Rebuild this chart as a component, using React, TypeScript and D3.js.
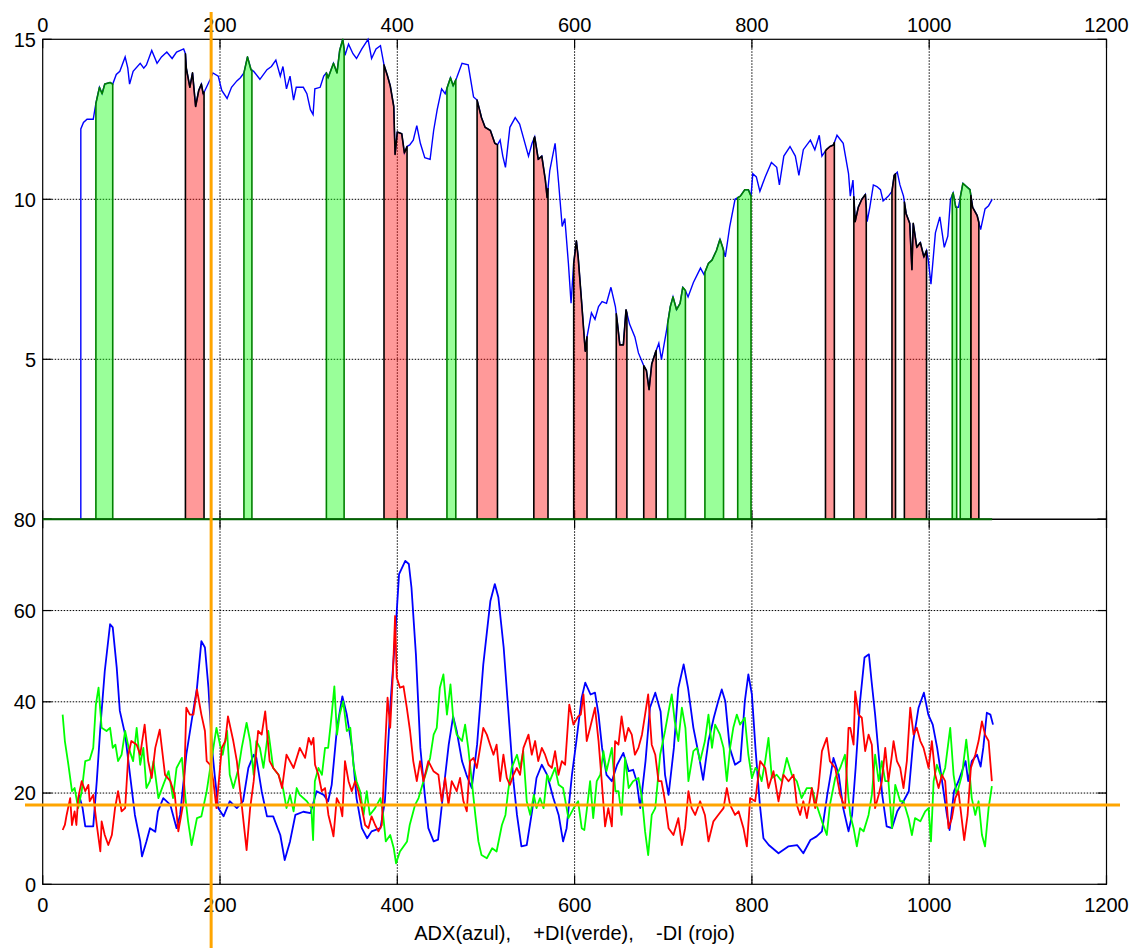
import React from 'react';
import * as d3 from 'd3';

type Pt = [number, number];

// axis ticks
const xTicks = [0, 200, 400, 600, 800, 1000, 1200];
const priceTicks = [0, 5, 10, 15];
const priceLabels = [5, 10, 15];
const adxTicks = [0, 20, 40, 60, 80];

// price (top panel), [bar, value]
const price: Pt[] = [
  [43, 0], [43, 12.2], [46, 12.4], [50, 12.5], [53, 12.5], [57, 12.5], [60, 13.0], [64, 13.5], [67, 13.3], [70, 13.6],
  [76, 13.65], [79, 13.6], [83, 13.9], [87, 14.0], [93, 14.45], [96, 14.1], [98, 13.6], [102, 14.0], [110, 14.25],
  [114, 14.1], [117, 14.2], [123, 14.65], [129, 14.25], [134, 14.45], [140, 14.6], [146, 14.4], [151, 14.6], [159, 14.7],
  [161, 14.55], [162, 14.1], [166, 13.5], [169, 13.95], [172.5, 12.9], [176, 13.4], [179, 13.6], [181, 13.3], [183, 13.4],
  [189, 13.75], [192, 13.95], [198, 13.85], [202, 13.4], [208, 13.15], [213, 13.5], [219, 13.7], [223, 13.8], [227, 13.95],
  [231, 14.45], [235, 14.05], [238, 14.0], [245, 13.75], [253, 14.05], [258, 14.15], [263, 14.35], [268, 13.85],
  [271, 14.15], [275, 13.45], [279, 13.85], [283, 13.1], [286, 13.5], [294, 13.5], [298, 13.3], [302, 12.8], [305, 12.65],
  [307, 13.45], [313, 13.5], [317, 13.85], [320, 13.95], [322, 13.8], [328, 14.25], [332, 13.95], [335, 14.65],
  [338.5, 15.0], [341, 14.5], [345, 14.85], [350, 14.55], [354, 14.4], [360, 14.7], [367, 15.0], [371, 14.4], [376, 14.7],
  [381, 14.8], [385, 14.2], [389, 13.85], [392, 13.55], [396, 12.9], [397.5, 11.4], [400, 12.1], [405, 12.05], [408, 11.45],
  [411, 11.65], [414, 11.7], [418, 11.85], [422, 12.3], [426, 11.75], [431, 11.3], [437, 11.25], [441, 12.15], [445, 12.8],
  [450, 13.45], [454, 13.3], [460, 13.8], [463, 13.55], [467, 13.8], [473, 14.25], [480, 14.2], [486, 13.2], [490, 13.1],
  [495, 12.55], [499, 12.25], [505, 12.15], [510, 11.75], [513, 11.7], [516, 11.85], [519, 11.35], [522, 11.0], [527, 12.25],
  [533, 12.55], [538, 12.35], [542, 11.95], [548, 11.35], [552, 11.75], [555, 11.95], [559, 11.25], [563, 11.35], [567, 10.6],
  [569, 10.05], [572, 10.9], [578, 11.75], [582, 10.5], [586, 9.15], [589, 9.4], [593, 8.0], [596, 6.75], [599, 8.0],
  [602, 8.7], [604, 8.2], [608, 6.75], [612, 5.25], [614, 5.7], [619, 6.45], [623, 6.25], [627, 6.65], [631, 6.8],
  [636, 6.75], [641, 7.25], [646, 6.65], [648, 6.2], [651, 5.45], [655, 5.45], [658, 6.55], [662, 6.1], [668, 5.7],
  [672, 5.2], [678, 4.8], [681, 4.65], [684, 4.05], [687, 4.85], [691, 5.2], [695, 5.5], [698, 5.0], [704, 5.95],
  [708, 6.65], [711, 6.95], [715, 6.55], [719, 6.75], [722, 7.25], [725, 7.15], [728, 6.95], [734, 7.4], [742, 7.85],
  [746, 7.65], [751, 8.0], [755, 8.1], [760, 8.4], [764, 8.75], [767, 8.5], [770, 8.2], [775, 9.15], [781, 10.0],
  [787, 10.1], [792, 10.3], [796, 10.3], [799, 10.1], [801, 10.8], [805, 10.7], [809, 10.25], [815, 10.7], [822, 11.15],
  [828, 11.0], [831, 10.45], [836, 11.35], [843, 11.65], [849, 11.35], [853, 10.75], [858, 11.55], [866, 11.85],
  [871, 11.55], [876, 12.0], [879, 11.35], [884, 11.55], [888, 11.65], [892, 11.7], [896, 12.0], [903, 11.75], [909, 10.8],
  [911, 10.1], [914, 10.6], [916.5, 9.3], [920, 9.75], [924, 10.0], [928, 10.15], [930, 9.3], [933, 9.75], [937, 10.45],
  [941, 10.4], [945, 10.3], [948, 9.95], [954, 10.1], [958, 10.25], [960.5, 10.75], [964, 10.85], [967, 10.45], [971, 10.1],
  [974, 9.55], [978, 9.25], [980.5, 7.8], [982, 9.25], [986, 8.5], [990, 8.65], [994, 8.2], [997, 8.4], [999, 8.1],
  [1002, 7.35], [1007, 8.95], [1012, 9.45], [1017, 8.5], [1021, 8.85], [1024, 10.0], [1027, 10.2], [1030, 9.75],
  [1033, 9.75], [1038, 10.5], [1042, 10.4], [1046, 10.3], [1049, 9.75], [1054, 9.5], [1058, 9.05], [1063, 9.7],
  [1067, 9.8], [1071, 10.0],
];

// shaded zones, [from, to]
const greenZones: Pt[] = [
  [60, 79], [227, 236], [320, 340], [456, 466], [705, 725], [747, 768], [784, 799], [1026, 1031], [1035, 1047],
];
const redZones: Pt[] = [
  [161, 182], [385, 411], [490, 513], [554, 570], [599, 614], [647, 659], [678, 692], [883, 893], [915, 929],
  [958, 962], [972, 997], [1047, 1056],
];

// ADX (azul)
const adx: Pt[] = [
  [41, 19.6], [45, 16.7], [48, 12.7], [57, 12.7], [61, 22.6], [65, 34.3], [70, 46.7], [76, 57], [79, 56.3], [83.5, 47.5],
  [87, 38], [93, 32.8], [98.5, 24], [104, 15.2], [110, 9.4], [112, 6.1], [117, 9.4], [121, 12.3], [127, 11.5], [130, 16],
  [136, 18.9], [144, 17.4], [151, 12.3], [155, 15.2], [162, 28.4], [168, 35.8], [174, 43], [179, 53.3], [183, 51.9],
  [187, 43], [191, 29.9], [194, 24], [198, 16.7], [204, 14.9], [211, 18.2], [219, 16.7], [226, 18.2], [232, 25.5],
  [238, 28.4], [241, 27.7], [247, 20.4], [253, 14.9], [260, 14.9], [268, 10.8], [273, 5.3], [279, 9.4], [285, 15.2],
  [294, 15.9], [302, 15.6], [309, 20.4], [317, 19.6], [322, 18.2], [326, 21.8], [332, 34.3], [338, 41.2], [343, 37.2],
  [349, 29.9], [354, 18.9], [360, 12.3], [366, 10.1], [371, 11.6], [381, 12.3], [386, 18.2], [392, 38.7], [398, 55.5],
  [402, 68], [409, 70.9], [413, 70.2], [416, 65], [421, 50.4], [426, 29.9], [431, 19.6], [435, 12.3], [441, 9.4],
  [446, 9.8], [452, 20.4], [458, 30.6], [463, 36.8], [467, 33.6], [473, 27], [478, 24], [484, 21.1], [490, 30.6],
  [497, 48.2], [505, 62.1], [510, 65.8], [514, 62.9], [520, 51.9], [525, 38.7], [531, 22.6], [535, 15.2], [540, 8.3],
  [546, 8.6], [552, 16], [557, 23.3], [563, 26.2], [569, 24], [576, 18.9], [582, 15.2], [587, 9.4], [591, 12.3],
  [597, 24], [602, 31.4], [608, 40.9], [612, 44.2], [618, 41.6], [623, 42], [627, 37.2], [631, 29.9], [636, 24],
  [642, 22.6], [648, 26.2], [655, 28.8], [661, 24.8], [666, 25.1], [670, 22.6], [674, 16.7], [680, 27], [685, 38.7],
  [691, 42], [697, 37.9], [702, 24], [706, 19.6], [712, 29.9], [717, 43], [723, 48.2], [728, 43], [734, 34.3],
  [740, 28.4], [745, 22.9], [751, 31.4], [757, 36.5], [762, 40.1], [766, 42.7], [770, 40.1], [775, 29.9], [781, 26.2],
  [787, 27], [792, 40.1], [796, 46], [800, 41.6], [804, 29.9], [809, 17.4], [813, 10.1], [819, 8.6], [830, 6.8],
  [841, 8.3], [851, 8.6], [858, 6.8], [866, 9.7], [873, 10.5], [879, 11.6], [885, 19.6], [892, 27.7], [898, 24],
  [903, 16.7], [909, 11.6], [913, 15.2], [917, 25.5], [922, 40.1], [927, 49.7], [932, 50.4], [935, 44.5], [939, 37.2],
  [943, 28.4], [947, 19.6], [952, 12.7], [958, 12.3], [964, 16], [971, 18.2], [977, 20.4], [982, 31.4], [988, 38.7],
  [994, 42], [999, 37.2], [1004, 35], [1009, 29.9], [1014, 23.3], [1020, 15.2], [1023, 11.9], [1028, 20.4], [1033, 22.6],
  [1041, 27], [1044, 22.6], [1048, 27], [1054, 28.4], [1058, 25.8], [1061, 29.9], [1065, 37.6], [1069, 37.2], [1072, 35],
];

// +DI (verde)
const diPlus: Pt[] = [
  [22.5, 37.2], [25, 31.4], [29, 26.2], [33, 20.4], [36, 21.1], [40, 16.7], [44, 20.4], [48, 27], [53, 27.3], [57, 29.9],
  [60, 39.4], [63, 43.1], [66.5, 34.3], [72, 33.6], [76, 34.3], [79, 29.9], [82, 30.6], [85, 27], [89, 28.4], [93, 33.6],
  [97, 29.9], [102, 27], [106, 34.3], [110, 26.2], [113.5, 29.9], [117, 21.1], [121, 22.6], [125, 27], [130.5, 18.9],
  [136, 21.8], [142, 24.8], [147, 18.9], [151, 25.5], [157, 27.7], [161, 18.9], [164, 13.8], [168, 8.6], [174, 14.5],
  [179, 14.9], [185, 20.4], [189, 25.5], [192.5, 29.9], [196, 34.3], [200, 30.6], [203, 28.4], [208, 33.6], [211, 24],
  [215, 21.1], [221, 25.5], [224.5, 29.9], [230, 35.4], [234, 31.4], [238, 24], [241, 31.4], [245, 29.9], [249, 25.5],
  [254.5, 33.6], [260, 25.5], [266, 24], [271, 21.1], [275, 16.7], [279, 19.6], [283, 16], [286.5, 21.1], [290, 19.6],
  [298, 18.2], [303, 16.7], [305, 9.7], [307, 22.6], [311, 25.5], [315, 24], [318.5, 29.9], [322, 29.9], [326, 37.2],
  [329, 43.4], [332, 32.8], [335, 37.2], [339, 40.1], [343, 33.6], [347, 34.3], [350.5, 26.2], [354, 22.6], [358, 20.4],
  [362, 15.2], [365.5, 20.4], [369, 15.2], [375, 16.7], [381, 18.9], [384, 15.2], [387, 9.4], [392, 10.8], [396, 7.9],
  [398.6, 4.6], [403, 7.2], [411, 9.4], [414, 13], [420, 17.4], [424, 18.9], [429.5, 22.6], [433, 24.8], [437, 27.7],
  [441, 32.8], [444.5, 34.3], [448, 43.1], [452, 46], [456, 37.2], [460, 43.8], [463, 36.5], [467, 32.8], [473, 31.4],
  [476.5, 35], [480, 29.9], [484, 22.6], [488, 15.2], [491.5, 9.4], [495, 6.4], [501, 5.7], [507, 7.9], [512, 7.2],
  [518, 13], [522, 15.2], [525, 20.4], [529, 25.5], [535, 28.4], [538.5, 25.5], [542, 29.2], [546, 18.2], [550, 15.2],
  [554, 19.6], [557, 16.7], [561, 18.9], [565, 16.7], [569, 24], [572, 22.6], [578, 25.5], [582, 21.8], [587, 21.1],
  [593, 14.5], [599, 16.7], [604, 18.2], [608, 12.3], [611, 11.9], [614, 16.7], [617.5, 22.6], [621, 14.5], [625, 22.6],
  [629, 24], [632.5, 29.2], [636, 24.8], [642, 29.9], [646, 20.4], [649.5, 20.4], [653, 15.2], [657, 27.7], [661, 21.1],
  [666, 22.6], [672, 23.3], [676, 18.9], [679.5, 11.6], [683, 6.4], [687, 15.2], [691, 16.7], [696.5, 28.4], [702, 33.6],
  [706, 37.9], [709.6, 41.6], [713, 35.7], [717, 31.4], [721, 38.7], [725, 34.3], [728.4, 22.6], [734, 29.2], [738, 29.9],
  [741.6, 27], [747, 31.4], [751, 37.2], [755, 29.9], [758.5, 35], [764, 32.8], [768, 29.9], [771.7, 22.6], [775.4, 29.9],
  [779, 34.3], [783, 37.2], [786.7, 35], [792, 36.5], [796, 28.4], [800, 23.3], [804, 25.5], [807.4, 24.8], [811, 22.6],
  [815, 27], [818.7, 32.1], [822.5, 23.3], [828, 24], [833.7, 22.6], [839.4, 27.7], [845, 24], [850.7, 22.6], [856, 18.9],
  [862, 21.1], [867.6, 21.1], [873, 17.4], [879, 13.8], [884.5, 10.8], [888, 17.4], [894, 23.3], [899.6, 25.5],
  [905, 28.4], [909, 18.9], [911, 15.2], [914.7, 12.3], [918.4, 8.3], [922, 12.3], [926, 11.6], [931.6, 15.2],
  [935.3, 19.6], [939, 28.4], [943, 22.6], [946.6, 27], [950.4, 22.6], [954, 22.6], [958, 12.3], [961.7, 21.8],
  [967.3, 18.2], [971, 18.2], [976.7, 14.5], [980.5, 10.8], [984, 14.5], [990, 13.8], [995.5, 16], [999.3, 16.7],
  [1002, 9.4], [1005, 22.6], [1008.7, 26.2], [1014, 23.3], [1018, 25.5], [1023.7, 34.3], [1027.5, 24], [1031, 19.6],
  [1037, 24], [1041.8, 31.7], [1044.4, 27], [1048, 18.9], [1052, 15.2], [1055.7, 18.2], [1059.5, 10.8], [1063, 8.3],
  [1067, 16.7], [1070.7, 21.5],
];

// -DI (rojo)
const diMinus: Pt[] = [
  [22.5, 11.9], [25, 13], [27, 15.2], [31, 18.9], [33, 13], [36, 16], [38, 13], [40, 18.9], [44, 22.6], [48, 20.4],
  [51.5, 21.8], [53, 18.2], [57, 19.6], [61, 13], [65, 7.2], [66.5, 13.8], [70, 10.8], [74, 8.6], [78, 10.8],
  [81.6, 16.7], [85, 20.4], [89, 16], [93, 16.7], [96.6, 28.4], [100, 31.4], [106, 30.6], [110, 28.4], [115, 35],
  [119, 27], [123, 23.3], [127, 29.9], [132, 33.9], [138, 24], [144, 22.6], [149, 19.6], [153, 11.6], [159, 18.2],
  [162, 38.7], [166, 37.2], [170, 37.2], [174, 42.7], [179, 37.2], [183, 33.6], [185, 27], [189, 26.2], [192.5, 22.6],
  [196, 16.7], [202, 29.9], [206, 31.4], [209, 36.8], [215, 31.4], [219, 27], [224.5, 17.4], [230, 7.5], [234, 16.7],
  [238, 22.6], [243, 33.6], [247, 32.8], [251, 37.9], [256, 27], [260, 25.5], [266, 24], [270, 21.1], [275, 28.4],
  [283, 25.5], [290, 29.9], [296, 27.7], [300, 32.1], [303, 30.6], [305.4, 32.1], [307.2, 26.2], [311, 24],
  [314.8, 20.4], [318.5, 21.1], [322.3, 15.2], [326, 12.3], [328, 10.5], [331.7, 18.9], [335.4, 17.4], [338, 14.9],
  [341, 27], [345, 22.6], [348.6, 20.4], [352.4, 22.6], [356, 20.4], [360, 16.7], [363.7, 13], [367.4, 12.3],
  [371, 14.9], [375, 13], [378.7, 11.6], [382.5, 13], [386.2, 29.9], [389, 40.9], [392, 34.3], [395, 46], [397.5, 58.8],
  [399.4, 45.3], [403, 43.1], [407, 43.4], [410.7, 38.7], [414.4, 33.6], [418, 27], [422, 22.6], [425.7, 27],
  [429.5, 22.6], [435, 27], [440.8, 24.8], [446.4, 24], [450, 18.2], [454, 23.3], [457.7, 17.4], [461.4, 22.6],
  [467, 20.4], [470.8, 23.3], [474.6, 18.2], [478.4, 16], [482, 27], [486, 27.7], [489.7, 25.5], [493.4, 29.9],
  [497, 34.3], [501, 32.8], [504.7, 30.6], [508.5, 28.4], [512, 30.6], [516, 22.6], [519.7, 28.4], [523.5, 23.3],
  [527, 21.8], [531, 24], [534.8, 25.5], [538.5, 24], [542.3, 29.9], [548, 32.8], [551.7, 28.4], [555.5, 31.4],
  [559, 27], [563, 29.9], [566.7, 28.4], [570.5, 26.2], [574.3, 25.5], [578, 29.2], [581.8, 24], [585.6, 27],
  [589.3, 26.2], [594, 39.4], [598.7, 35], [604, 36.8], [607, 37.2], [610, 41.6], [613.7, 31.4], [617.5, 34.3],
  [623, 38.7], [627, 31.4], [630.6, 22.6], [634.4, 12.7], [638, 16.7], [642, 12.7], [645.7, 31.4], [649.5, 30.6],
  [653, 36.8], [657, 31.4], [660.7, 34.3], [664.5, 32.8], [668, 28.4], [672, 29.9], [676, 32.8], [679.5, 37.2],
  [683, 41.6], [687, 30.6], [691, 28.4], [694.6, 22.6], [698, 22.6], [702, 18.2], [706, 12.3], [711.5, 10.8],
  [717, 14.5], [721, 8.6], [724.7, 12.3], [728.4, 20.4], [732, 16.7], [736, 15.2], [741.6, 18.2], [747, 15.2],
  [751, 9.4], [756.6, 13.8], [762, 15.2], [768, 16.7], [771.7, 21.1], [775.4, 17.4], [781, 15.2], [785, 16], [790.5, 12.3],
  [794.3, 8.3], [798, 18.9], [803.7, 18.2], [809.3, 27], [815, 25.5], [818.7, 21.1], [824.3, 24.8], [830, 18.2],
  [835.6, 24], [841.3, 22.6], [847, 24], [850.7, 17.4], [854.4, 15.2], [858, 18.2], [862, 14.5], [867.6, 21.1],
  [871.4, 16.7], [875, 21.1], [879, 29.2], [884.5, 32.1], [888, 27], [894, 25.5], [899.6, 19.6], [905, 16.7],
  [909, 34.3], [911, 34.3], [914.7, 30.6], [916.5, 42.3], [920.3, 37.2], [924, 36.5], [927.8, 29.2], [931.6, 32.8],
  [935.3, 30.6], [939, 16.7], [943, 19.6], [946.6, 22.6], [950.4, 29.9], [954, 22.6], [958, 28.4], [959.8, 31.4],
  [963.6, 27], [967.3, 25.5], [971, 21.1], [974.8, 27], [978.6, 38.7], [982.4, 32.8], [986, 34.3], [990, 31.4],
  [993.6, 29.9], [999.3, 25.5], [1003, 31.4], [1006.8, 24], [1010.6, 21.1], [1014.3, 24], [1018, 22.6], [1021.8, 12.3],
  [1025.6, 14.5], [1029.4, 18.9], [1033, 20.4], [1037, 13.8], [1039.5, 9.7], [1043.3, 15.2], [1047, 25.5],
  [1052, 28.4], [1055.7, 31.4], [1059.5, 35.7], [1063, 32.8], [1067, 31.4], [1070.7, 22.6],
];

// crosshair cursor position (bar, ADX-panel value)
const cursor = { x: 190, y: 17.4 };
const xLabel = 'ADX(azul),    +DI(verde),    -DI (rojo)';

const W = 1137;
const H = 948;
const plot = { left: 42.7, right: 1106.5 };
const topPanel = { top: 39.3, bottom: 519.3 };
const botPanel = { top: 519.3, bottom: 884.3 };
const FONT = '"Liberation Sans", Arial, Helvetica, sans-serif';
const TICK = 9;

export default function App() {
  const x = d3.scaleLinear().domain([0, 1200]).range([plot.left, plot.right]);
  const yP = d3.scaleLinear().domain([0, 15]).range([topPanel.bottom, topPanel.top]);
  const yA = d3.scaleLinear().domain([0, 80]).range([botPanel.bottom, botPanel.top]);

  const priceLine = d3.line<Pt>().x(d => x(d[0])).y(d => yP(d[1]));
  const adxLine = d3.line<Pt>().x(d => x(d[0])).y(d => yA(d[1]));

  // price values inside a zone (ends interpolated on the price path)
  const series = price.filter(d => d[1] > 0);
  const priceAt = d3.scaleLinear()
    .domain(series.map(d => d[0]))
    .range(series.map(d => d[1]))
    .clamp(true);
  const zonePts = ([a, b]: Pt): Pt[] => [
    [a, priceAt(a)],
    ...series.filter(d => d[0] > a && d[0] < b),
    [b, priceAt(b)],
  ];
  const zoneArea = d3.area<Pt>().x(d => x(d[0])).y0(yP(0)).y1(d => yP(d[1]));
  const lastBar = price[price.length - 1][0];

  const grid = { stroke: '#000', strokeWidth: 1, strokeDasharray: '1.5 1.5' };

  const panelFrame = (p: { top: number; bottom: number }, yScale: d3.ScaleLinear<number, number>, yTicks: number[]) => (
    <g>
      <rect x={plot.left} y={p.top} width={plot.right - plot.left} height={p.bottom - p.top}
        fill="none" stroke="#000" strokeWidth={1.2} />
      {xTicks.map(t => (
        <g key={'xt' + t}>
          <line x1={x(t)} x2={x(t)} y1={p.bottom} y2={p.bottom - TICK} stroke="#000" strokeWidth={1.2} />
          <line x1={x(t)} x2={x(t)} y1={p.top} y2={p.top + TICK} stroke="#000" strokeWidth={1.2} />
        </g>
      ))}
      {yTicks.map(t => (
        <g key={'yt' + t}>
          <line x1={plot.left} x2={plot.left + TICK} y1={yScale(t)} y2={yScale(t)} stroke="#000" strokeWidth={1.2} />
          <line x1={plot.right} x2={plot.right - TICK} y1={yScale(t)} y2={yScale(t)} stroke="#000" strokeWidth={1.2} />
        </g>
      ))}
    </g>
  );

  return (
    <svg width={W} height={H} style={{ position: 'absolute', left: 0, top: 0 }} fontFamily={FONT}>
      <rect width={W} height={H} fill="#fff" />

      {/* grids */}
      {xTicks.slice(1, -1).map(t => (
        <g key={'g' + t}>
          <line x1={x(t)} x2={x(t)} y1={topPanel.top} y2={topPanel.bottom} {...grid} />
          <line x1={x(t)} x2={x(t)} y1={botPanel.top} y2={botPanel.bottom} {...grid} />
        </g>
      ))}
      {priceTicks.slice(1, -1).map(t => (
        <line key={'gp' + t} x1={plot.left} x2={plot.right} y1={yP(t)} y2={yP(t)} {...grid} />
      ))}
      {adxTicks.slice(1, -1).map(t => (
        <line key={'ga' + t} x1={plot.left} x2={plot.right} y1={yA(t)} y2={yA(t)} {...grid} />
      ))}

      {panelFrame(topPanel, yP, priceTicks)}
      {panelFrame(botPanel, yA, adxTicks)}

      {/* top panel: price with shaded zones */}
      <path d={priceLine(price) || ''} fill="none" stroke="#0000ff" strokeWidth={1.4} />
      {greenZones.map((z, i) => (
        <path key={'gz' + i} d={zoneArea(zonePts(z)) || ''} fill="#00ff00" fillOpacity={0.4}
          stroke="#008000" strokeWidth={1.6} strokeLinejoin="round" />
      ))}
      {redZones.map((z, i) => (
        <path key={'rz' + i} d={zoneArea(zonePts(z)) || ''} fill="#ff0000" fillOpacity={0.4}
          stroke="#000" strokeWidth={1.6} strokeLinejoin="round" />
      ))}
      <line x1={x(0)} x2={x(lastBar)} y1={yP(0)} y2={yP(0)} stroke="#006400" strokeWidth={2} />

      {/* bottom panel: ADX, +DI, -DI */}
      <path d={adxLine(adx) || ''} fill="none" stroke="#0000ff" strokeWidth={1.8} strokeLinejoin="round" />
      <path d={adxLine(diPlus) || ''} fill="none" stroke="#00ff00" strokeWidth={1.8} strokeLinejoin="round" />
      <path d={adxLine(diMinus) || ''} fill="none" stroke="#ff0000" strokeWidth={1.8} strokeLinejoin="round" />

      {/* tick labels */}
      <g fontSize={20} fill="#000">
        {xTicks.map(t => (
          <text key={'lt' + t} x={x(t)} y={32} textAnchor="middle">{t}</text>
        ))}
        {xTicks.map(t => (
          <text key={'lb' + t} x={x(t)} y={912} textAnchor="middle">{t}</text>
        ))}
        {priceLabels.map(t => (
          <text key={'lp' + t} x={36} y={yP(t)} dy="0.36em" textAnchor="end">{t}</text>
        ))}
        {adxTicks.map(t => (
          <text key={'la' + t} x={36} y={yA(t)} dy="0.36em" textAnchor="end">{t}</text>
        ))}
        <text x={(plot.left + plot.right) / 2} y={940} textAnchor="middle" style={{ whiteSpace: 'pre' }}>
          {xLabel}
        </text>
      </g>

      {/* crosshair */}
      <line x1={x(cursor.x)} x2={x(cursor.x)} y1={12} y2={H} stroke="#ffa500" strokeWidth={3} />
      <line x1={25} x2={1120} y1={yA(cursor.y)} y2={yA(cursor.y)} stroke="#ffa500" strokeWidth={3} />
    </svg>
  );
}
